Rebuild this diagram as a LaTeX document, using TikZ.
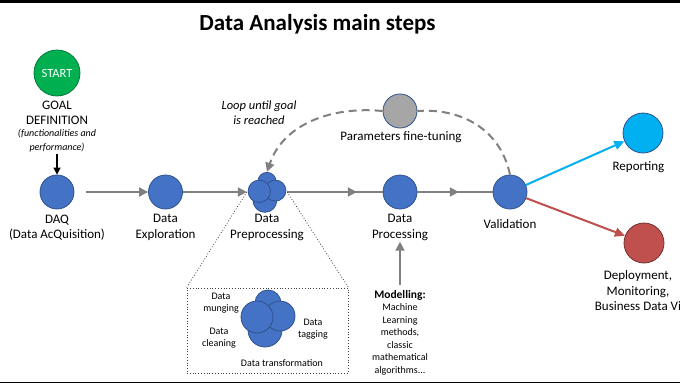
\documentclass[tikz,border=0pt]{standalone}
\usepackage{fontspec}
\setmainfont{Carlito}
\usetikzlibrary{arrows.meta,positioning,decorations.markings}
\definecolor{dagreen}{RGB}{0,176,80}
\definecolor{dablue}{RGB}{68,114,196}
\definecolor{daedge}{RGB}{47,82,143}
\definecolor{dagray}{RGB}{166,166,166}
\definecolor{daline}{RGB}{128,128,128}
\definecolor{dasky}{RGB}{0,176,240}
\definecolor{dared}{RGB}{192,80,77}
\tikzset{
  stepnode/.style={circle,draw=daedge,thick,fill=dablue,minimum size=34pt,inner sep=0pt},
  startnode/.style={circle,draw=dagreen!70!black,thick,fill=dagreen,minimum size=46pt,inner sep=0pt,
    text=white,font=\fontsize{12.5}{14}\selectfont},
  hubnode/.style={circle,minimum size=40pt,inner sep=0pt},
  lblnode/.style={align=center,font=\fontsize{13}{15.5}\selectfont,inner sep=1pt},
  notenode/.style={align=center,font=\fontsize{10}{14}\selectfont\itshape,inner sep=1pt},
  smallnode/.style={align=center,font=\fontsize{10}{12.5}\selectfont,inner sep=1pt},
  zoombox/.style={draw=black!75,dotted,thick,inner sep=0pt},
  zoomline/.style={draw=black!75,dotted,thick},
  flowarrow/.style={-{Triangle[length=9pt,width=9pt]},line width=2pt,color=daline},
  midarrow/.style={line width=2pt,color=daline,postaction={decorate},
    decoration={markings,mark=at position #1 with {\arrow{Triangle[length=9pt,width=9pt]}}}},
  midarrow/.default=0.6,
  loopline/.style={-{Triangle[length=9pt,width=9pt]},line width=2pt,color=daline,dash pattern=on 8pt off 5pt},
  cluster/.pic={
    \filldraw[fill=dablue,draw=daedge,thick] (0,-15) circle[radius=13];
    \filldraw[fill=dablue,draw=daedge,thick] (-3,12) circle[radius=17];
    \filldraw[fill=dablue,draw=daedge,thick] (12,-2) circle[radius=15];
    \filldraw[fill=dablue,draw=daedge,thick] (-11,-1) circle[radius=16];
  }
}

\begin{document}
\begin{tikzpicture}[x=1pt,y=-1pt]
  \useasboundingbox (0,0) rectangle (680,383);
  \fill[white] (0,0) rectangle (680,383);
  \fill[black] (0,0) rectangle (680,3);
  \fill[black] (0,381.5) rectangle (680,383);

  \node[font=\fontsize{23}{27}\selectfont\bfseries] (title) at (317.5,24) {Data Analysis main steps};

  % start and goal
  \node[startnode] (start) at (57,73) {START};
  \node[lblnode] (goal) at (57,113) {GOAL\\DEFINITION};
  \node[notenode] (goalnote) at (57,141) {(functionalities and\\performance)};

  % main line
  \node[stepnode] (daq) at (57,192) {};
  \node[stepnode] (explo) at (165.5,192) {};
  \node[hubnode] (prep) at (267,192) {};
  \pic[scale=0.7] at (prep) {cluster};
  \node[stepnode] (proc) at (400,192) {};
  \node[stepnode] (valid) at (510,192) {};
  \node[stepnode,fill=dagray] (param) at (400,111) {};
  \node[stepnode,fill=dasky,minimum size=40pt] (report) at (643,133) {};
  \node[stepnode,fill=dared,draw=dared!60!black,minimum size=40pt] (deploy) at (644,243) {};

  \node[lblnode] (daqlbl) at (57,227.5) {DAQ\\(Data AcQuisition)};
  \node[lblnode] (explolbl) at (165.5,227.5) {Data\\Exploration};
  \node[lblnode] (preplbl) at (267,227.5) {Data\\Preprocessing};
  \node[lblnode] (proclbl) at (400,227.5) {Data\\Processing};
  \node[lblnode] (validlbl) at (510,224) {Validation};
  \node[lblnode] (paramlbl) at (401,137) {Parameters fine-tuning};
  \node[lblnode] (reportlbl) at (638.5,167) {Reporting};
  \node[lblnode] (deploylbl) at (638,291) {Deployment,\\Monitoring,\\Business Data Vi};
  \node[notenode,font=\fontsize{12.5}{15}\selectfont\itshape] (looplbl) at (259,113) {Loop until goal\\is reached};

  \draw[-{Triangle[length=7pt,width=7pt]},line width=1.5pt] (goalnote.south) -- (daq.north);
  \draw[flowarrow,shorten <=12pt] (daq) -- (explo);
  \draw[flowarrow] (explo) -- (prep);
  \draw[midarrow=0.73] (prep.east) -- (proc.west);
  \draw[midarrow=0.55] (proc) -- (valid);
  \draw[-{Triangle[length=10pt,width=9pt]},line width=2pt,color=dasky] (valid) -- (report);
  \draw[-{Triangle[length=10pt,width=9pt]},line width=2pt,color=dared] (valid) -- (deploy);

  % loop back
  \draw[line width=2pt,color=daline,dash pattern=on 8pt off 5pt]
    (valid.north) .. controls (500,128) and (460,108) .. (param.east);
  \draw[loopline] (param.west) .. controls (330,106) and (283,125) .. (prep.north);

  % zoom on preprocessing
  \node[zoombox,minimum width=161pt,minimum height=85pt] (zbox) at (267.5,330.5) {};
  \draw[zoomline] (prep.west) -- (zbox.north west);
  \draw[zoomline] (prep.east) -- (zbox.north east);
  \pic at (268,318) {cluster};
  \node[smallnode] (munge) at (221,303) {Data\\munging};
  \node[smallnode] (clean) at (219,338) {Data\\cleaning};
  \node[smallnode] (tagging) at (313,329) {Data\\tagging};
  \node[smallnode] (transf) at (282,363) {Data transformation};

  % modelling
  \node[smallnode,anchor=north] (model) at (400,289)
    {{\fontsize{11.5}{14}\selectfont\bfseries Modelling:}\\Machine\\Learning\\methods,\\classic\\mathematical\\algorithms...};
  \draw[flowarrow,shorten <=4pt] (model.north) -- (proclbl.south);
\end{tikzpicture}
\end{document}
